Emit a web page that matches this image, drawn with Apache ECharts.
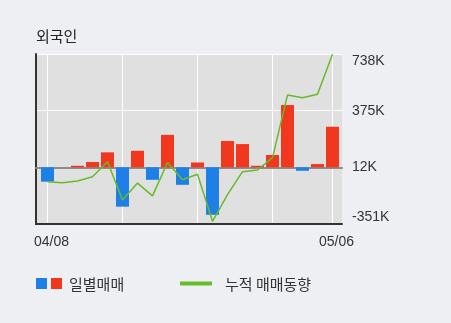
<!DOCTYPE html>
<html>
<head>
<meta charset="utf-8">
<script src="https://cdn.jsdelivr.net/npm/echarts@6/dist/echarts.min.js"></script>
<style>
html,body{margin:0;padding:0;background:#EEEFF3;}
#chart{width:451px;height:323px;}
</style>
</head>
<body>
<div id="chart"></div>
<script>
// Trading dates (first and last are labelled)
const categories = ['04/08','04/09','04/12','04/13','04/14','04/15','04/16','04/19','04/20','04/21',
                    '04/22','04/23','04/26','04/27','04/28','04/29','04/30','05/03','05/04','05/06'];
// Daily net buying (thousand shares)
const dailyValues = [-92, 0, 10, 34, 96, -252, 106, -80, 208, -112,
                     31, -304, 169, 149, 10, 79, 399, -22, 21, 260];
// Cumulative net buying (thousand shares)
const cumulativeValues = [-92, -99, -88, -60, 36, -209, -101, -183, 31, -80,
                          -44, -346, -175, -28, -17, 62, 463, 446, 468, 724];
// Right axis tick labels (bottom to top)
const yTickLabels = ['-351K', '12K', '375K', '738K'];
const labelledIndices = [0, 19];
const gridIndices = [0, 5, 10, 15, 19];

const yMin = -363, yMax = 726, yInterval = 363;
const numFont = "'Liberation Sans', Arial, sans-serif";
const krFont = "'Noto Sans CJK KR', sans-serif";

const chart = echarts.init(document.getElementById('chart'), null, {renderer: 'canvas'});
chart.setOption({
  backgroundColor: '#EEEFF3',
  animation: false,
  grid: [
    {left: 36, right: 109, top: 54, height: 170, show: true, backgroundColor: '#E0E0E0', borderWidth: 0, z: -1},
    {left: 47.5, right: 118.5, top: 54, height: 170, show: false}
  ],
  xAxis: [
    {type: 'value', gridIndex: 0, min: 0, max: 1, position: 'bottom',
     axisLine: {show: true, onZero: false, lineStyle: {color: '#333', width: 2}},
     axisTick: {show: false}, axisLabel: {show: false}, splitLine: {show: false}},
    {type: 'value', gridIndex: 0, min: 0, max: 1, position: 'top',
     axisLine: {show: true, onZero: true, lineStyle: {color: '#8C8C8C', width: 2}},
     axisTick: {show: false}, axisLabel: {show: false}, splitLine: {show: false}},
    {type: 'category', gridIndex: 1, data: categories, boundaryGap: false,
     axisLine: {show: false}, axisTick: {show: false},
     axisLabel: {show: true, margin: 11, fontSize: 14, color: '#333', fontFamily: numFont,
                 padding: [0, 0, 0, 8],
                 interval: (i) => labelledIndices.indexOf(i) >= 0},
     splitLine: {show: true, interval: (i) => gridIndices.indexOf(i) >= 0,
                 lineStyle: {color: '#FFFFFF', width: 1}}}
  ],
  yAxis: [
    {type: 'value', gridIndex: 0, min: yMin, max: yMax, interval: yInterval, position: 'left',
     axisLine: {show: true, lineStyle: {color: '#333', width: 2}},
     axisTick: {show: false}, axisLabel: {show: false},
     splitLine: {show: true, lineStyle: {color: '#FFFFFF', width: 1}}},
    {type: 'value', gridIndex: 0, min: yMin, max: yMax, interval: yInterval, position: 'right',
     axisLine: {show: false}, axisTick: {show: false}, splitLine: {show: false},
     axisLabel: {show: true, margin: 10, fontSize: 14, color: '#333', fontFamily: numFont,
                 verticalAlignMaxLabel: 'top', verticalAlignMinLabel: 'bottom',
                 formatter: (v) => yTickLabels[Math.round((v - yMin) / yInterval)]}},
    {type: 'value', gridIndex: 1, min: yMin, max: yMax, interval: yInterval, show: false}
  ],
  series: [
    {type: 'bar', xAxisIndex: 2, yAxisIndex: 2, barWidth: 13, clip: false,
     data: dailyValues.map(v => ({value: v, itemStyle: {color: v < 0 ? '#1E7FE6' : '#F2371F'}}))},
    {type: 'line', xAxisIndex: 2, yAxisIndex: 2, data: cumulativeValues, symbol: 'none',
     clip: false, lineStyle: {color: '#66BB2A', width: 1.5}, z: 3}
  ],
  graphic: [
    {type: 'text', left: 36, top: 29, style: {text: '외국인', fontSize: 15, fontFamily: krFont, fill: '#222'}},
    {type: 'rect', shape: {x: 36, y: 278, width: 11, height: 11}, style: {fill: '#1E7FE6'}},
    {type: 'rect', shape: {x: 51, y: 278, width: 11, height: 11}, style: {fill: '#F2371F'}},
    {type: 'text', x: 69, y: 284, style: {text: '일별매매', fontSize: 15, fontFamily: krFont, fill: '#333', verticalAlign: 'middle'}},
    {type: 'rect', shape: {x: 180, y: 281.5, width: 32, height: 4}, style: {fill: '#66BB2A'}},
    {type: 'text', x: 225, y: 284, style: {text: '누적 매매동향', fontSize: 15, fontFamily: krFont, fill: '#333', verticalAlign: 'middle'}}
  ]
});
</script>
</body>
</html>
